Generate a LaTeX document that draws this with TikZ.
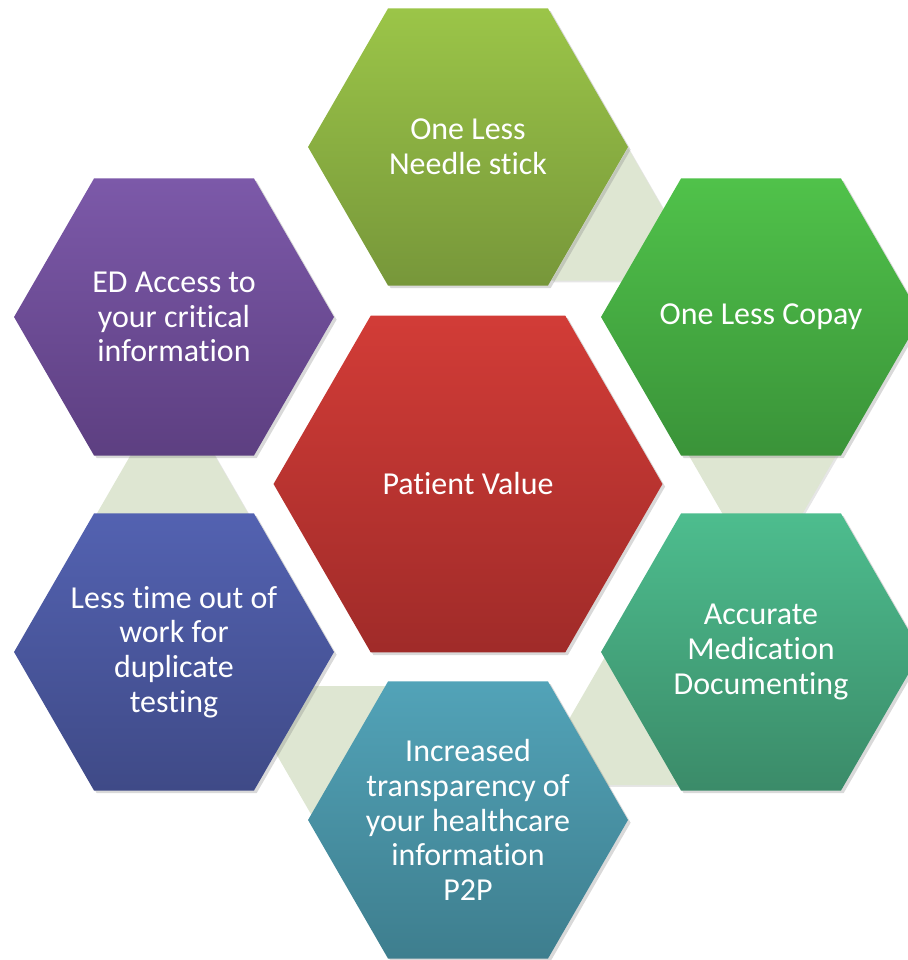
\documentclass[tikz,border=0pt]{standalone}
\usepackage{fontspec}
\setmainfont{Carlito}[Ligatures=NoCommon]
\usepackage{tikz}
\usetikzlibrary{shapes.geometric}
\usetikzlibrary{shadows}

\definecolor{linkgreen}{HTML}{DEE6D2}

\begin{document}
\begin{tikzpicture}[x=0.02cm,y=-0.02cm,
  hexa/.style={regular polygon,regular polygon sides=6,minimum size=6.4cm,
    inner sep=0pt,drop shadow={opacity=0.3,shadow xshift=1.5pt,shadow yshift=-1.5pt}},
  hextext/.style={text=white,align=center,font=\fontsize{18.2}{19.8}\selectfont},
  link/.style={fill=linkgreen,drop shadow={opacity=0.2,shadow xshift=1pt,shadow yshift=-1pt}}]
  \useasboundingbox (0,0) rectangle (908,960);
  \clip (0,0) rectangle (908,960);
  % light links behind the ring
  \path[link] (628,148) -- (551.5,280.5) -- (704.5,280.5) -- cycle;
  \path[link] (686,450.5) -- (839,450.5) -- (762.5,583) -- cycle;
  \path[link] (607.5,652.5) -- (531,785) -- (684,785) -- cycle;
  \path[link] (237,686) -- (390,686) -- (313.5,818.5) -- cycle;
  \path[link] (172.5,382.5) -- (96,515) -- (249,515) -- cycle;
  % outer hexagons
  \node[hexa,top color={rgb,255:red,155;green,197;blue,72},bottom color={rgb,255:red,119;green,151;blue,58},
    label={[hextext]center:One Less\\Needle stick}] (needle) at (468,147) {};
  \node[hexa,top color={rgb,255:red,80;green,194;blue,74},bottom color={rgb,255:red,58;green,147;blue,57},
    label={[hextext]center:One Less Copay}] (copay) at (761,317) {};
  \node[hexa,top color={rgb,255:red,77;green,189;blue,142},bottom color={rgb,255:red,59;green,139;blue,105},
    label={[hextext]center:Accurate\\Medication\\Documenting}] (meds) at (761,652) {};
  \node[hexa,top color={rgb,255:red,82;green,163;blue,184},bottom color={rgb,255:red,62;green,126;blue,142},
    label={[hextext]center:Increased\\transparency of\\your healthcare\\information\\P2P}] (p2p) at (468,820) {};
  \node[hexa,top color={rgb,255:red,83;green,98;blue,177},bottom color={rgb,255:red,63;green,74;blue,135},
    label={[hextext]center:Less time out of\\work for\\duplicate\\testing}] (work) at (174,652) {};
  \node[hexa,top color={rgb,255:red,124;green,89;blue,169},bottom color={rgb,255:red,93;green,63;blue,129},
    label={[hextext]center:ED Access to\\your critical\\information}] (access) at (174,317) {};
  % centre
  \node[hexa,minimum size=7.78cm,top color={rgb,255:red,210;green,60;blue,55},bottom color={rgb,255:red,160;green,43;blue,41},
    label={[hextext]center:Patient Value}] (patient) at (468,484) {};
\end{tikzpicture}
\end{document}
